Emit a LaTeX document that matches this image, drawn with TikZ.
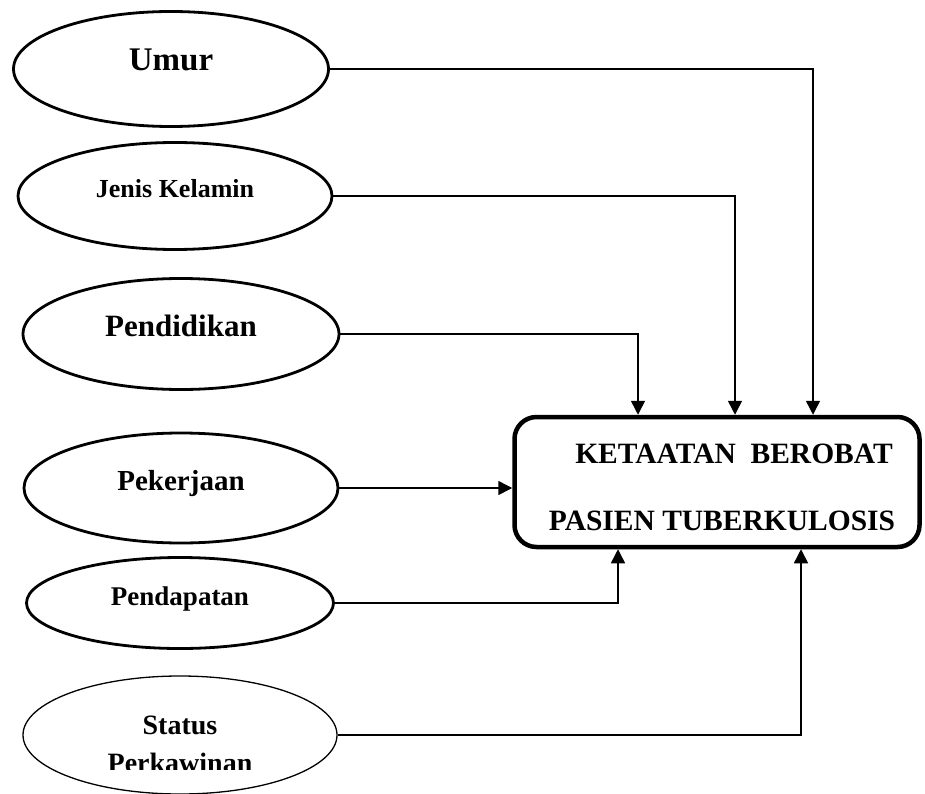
\documentclass[tikz,border=0pt]{standalone}
\usepackage{fontspec}
\setmainfont{Liberation Serif}
\usetikzlibrary{arrows.meta,shapes.geometric}

\tikzset{
  oval/.style={ellipse, draw, line width=2.8pt, inner sep=0pt, font=\bfseries,
    text height=21pt, text depth=17pt},
  box/.style={draw, line width=4.5pt, rounded corners=22pt, inner sep=0pt,
    minimum width=405pt, minimum height=130pt, align=center,
    font=\fontsize{29.5}{67}\selectfont\bfseries},
  link/.style={line width=1.5pt, -{Triangle[length=14pt,width=14pt]}}
}

\begin{document}
\begin{tikzpicture}[x=1pt, y=-1pt]

        \clip (0,0) rectangle (925,794);

        % Переменные (овалы)
        \node[oval, minimum width=315pt, minimum height=115pt, font=\fontsize{33}{40}\selectfont\bfseries] (umur) at (171,69) {Umur};
        \node[oval, minimum width=314pt, minimum height=107pt, font=\fontsize{26}{31}\selectfont\bfseries] (kelamin) at (175,196) {Jenis Kelamin};
        \node[oval, minimum width=316pt, minimum height=111pt, font=\fontsize{31}{37}\selectfont\bfseries] (pendidikan) at (181,334) {Pendidikan};
        \node[oval, minimum width=314pt, minimum height=110pt, font=\fontsize{29}{35}\selectfont\bfseries] (pekerjaan) at (181,488) {Pekerjaan};
        \node[oval, minimum width=307pt, minimum height=91pt, font=\fontsize{27}{32}\selectfont\bfseries] (pendapatan) at (180,603) {Pendapatan};
        \node[ellipse, draw, line width=1.3pt, inner sep=0pt, minimum width=314pt, minimum height=118pt] (status) at (180,735) {};
        \begin{scope}
            \clip (0,0) rectangle (925,769);
            \node[align=center, font=\fontsize{28}{38}\selectfont\bfseries] (statustext) at (180,744) {Status\\Perkawinan};
        \end{scope}

        % Ketaatan berobat
        \node[box] (ketaatan) at (717,482) {\rule{0pt}{31pt}\hspace*{34pt}KETAATAN\ \ BEROBAT\\\hspace*{10pt}PASIEN TUBERKULOSIS};

        % Связи сверху
        \draw[link] (umur.east) -| ([xshift=96pt]ketaatan.north);
        \draw[link] (kelamin.east) -| ([xshift=18pt]ketaatan.north);
        \draw[link] (pendidikan.east) -| ([xshift=-79pt]ketaatan.north);

        % Связь слева
        \draw[link] (pekerjaan.east) -- (pekerjaan.east -| ketaatan.west);

        % Связи снизу
        \draw[link] (pendapatan.east) -| ([xshift=-99pt]ketaatan.south);
        \draw[link] (status.east) -| ([xshift=84pt]ketaatan.south);

    \end{tikzpicture}
\end{document}
